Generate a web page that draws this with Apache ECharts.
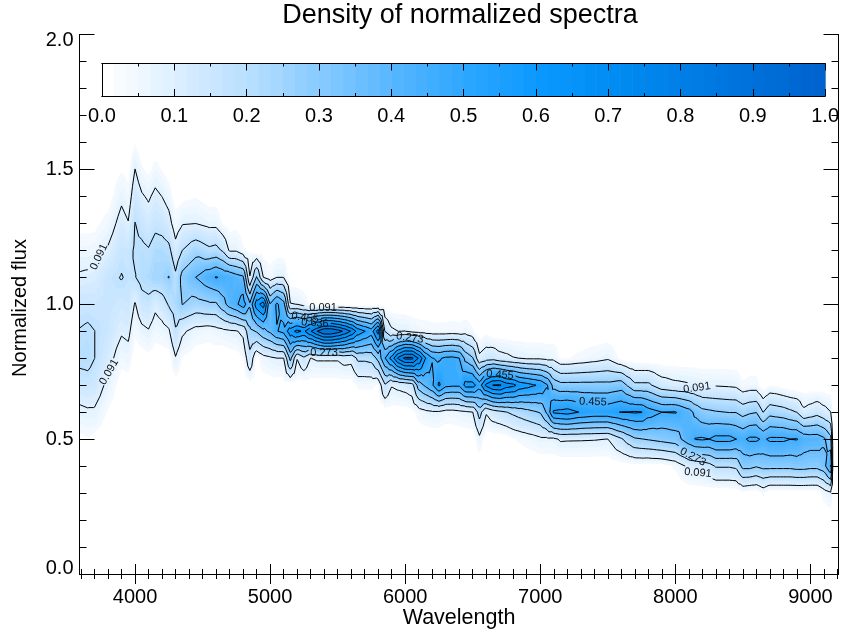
<!DOCTYPE html>
<html>
<head>
<meta charset="utf-8">
<style>html,body{margin:0;padding:0;background:#fff}#chart{width:842px;height:630px}</style>
<script src="https://cdn.jsdelivr.net/npm/echarts@6/dist/echarts.min.js"></script>
</head>
<body>
<div id="chart"></div>
<script>
// Density (percent). Each column: [wavelength, first flux bin in tenths, values upward]
const blueColumns = [
 [3580,5,2,7,14,20.5,18.5,15,10,5.5,2],
 [3650,5,3,8,15,21,19.5,15.5,10.5,5.5,2],
 [3700,5,2,8,14,18.3,18.3,15,11,6,2],
 [3800,6,3,7,12,15,16,16,10,5,1],
 [3900,7,1,5,10,14,18.6,16,12,7.5,3],
 [3950,7,1,6,11,15,17,15,9.5,5,1.5],
 [4000,8,1,4,8.5,17.8,19.5,18.4,14,9.2,3],
 [4050,8,1,7,15,21,20,15.5,10,4],
 [4100,8,2,8.5,16,22,18.8,13,8,2],
 [4150,8,1,5,11,25,22,16,11,5],
 [4200,8,1,6,14,25,22,15,9,3],
 [4250,8,1,8,19,27.6,20.5,12,6,1],
 [4300,7,1,8.5,17.5,22,20,12,5,1],
 [4350,7,1,3,10.5,27.5,30,18.2,8.5,2],
 [4450,8,1,6,24,36.5,24,9,3],
 [4550,8,1,5,26,43,20,7,1],
 [4600,8,1,6,26,46,21,7,1],
 [4650,9,7,33,44,17,3],
 [4700,8,1,8,40,43,8,1],
 [4750,8,1,8.5,44,40,8,2],
 [4800,8,3,11,50,38,4,1],
 [4850,7,2,15,25,38,9.5,2],
 [4900,7,1,2,28,60,28,1],
 [4950,7,1,6,34,68,9.1,1],
 [5000,7,1,7.5,38,37,5,1],
 [5050,7,1,9,45,47,9,1],
 [5100,7,1,9,48,40,9,1]
];
const peakColumns = [
 [5150,7,1,30,60,9.5,0],
 [5200,7,1,9.5,66,9,0],
 [5250,7,1,16,62,6,0],
 [5300,7,1,9,72,2,0],
 [5350,7,1,10,82,0],
 [5400,7,1,10,90,0],
 [5450,7,1,10,90,0],
 [5500,7,1,10,86,0],
 [5550,7,1,12,80,0],
 [5600,7,1,11.5,72,0],
 [5650,7,4,20,60,0],
 [5700,7,4,20,55,0],
 [5750,7,4,21,50,0],
 [5800,7,3,30,68,0],
 [5850,6,1,17,45,18,1],
 [5900,6,1,9.7,58,10.5,0],
 [5950,6,1,11,75,9,0],
 [6000,6,1,12,84,9.2,0],
 [6050,6,2,14,84,7,0],
 [6100,5,0,5,32,72,6,0],
 [6150,5,0,7,38,55,5.5,0],
 [6200,5,0,8,44,45.8,5,0],
 [6250,5,0,8,56,44.5,5,0],
 [6300,5,0,6,48,47,5,0],
 [6350,5,0,6,47,47.5,5.5,0],
 [6400,5,0,7,47,45.6,5,0],
 [6450,5,0,8,58,33,6,0],
 [6500,5,0,9,58,28,4,0],
 [6550,4,0,7,22,50,11,0],
 [6600,5,0,10,66,14,2],
 [6650,5,0,14,73,15,0],
 [6700,5,0,16,74,12,0],
 [6750,5,1,18,68,11,0],
 [6800,5,3,20,66,9.5,0],
 [6850,5,4,22,60,9,0],
 [6900,5,5,24,58,8,0],
 [6950,5,6,26,55.5,8,0]
];
const redColumns = [
 [7000,4,0,7.5,28,53,8,0],
 [7050,4,0,7.5,38,46.5,7,0],
 [7100,4,0,7.5,56,33,7,0],
 [7150,4,0,10,57,30,3,0],
 [7200,4,0,9.8,58,30,3,0],
 [7300,4,0,9.7,54,30,4.5,0],
 [7400,4,0,9.5,52,30,6,0],
 [7500,4,0,9,52,30,8,0],
 [7600,4,1,17,55,32,2,0],
 [7650,4,1,22,55,26,0],
 [7700,4,1.5,26,55.5,20,0],
 [7750,4,1.5,27,55,20,0],
 [7800,4,1,28,50,20,0],
 [7900,4,1.5,30,45.6,13,0],
 [8000,3,0,4,32,46,11,0],
 [8100,3,0,11,42,40,10,0],
 [8150,3,0,12,46,34,9.5,0],
 [8200,3,0,13,46.5,30,8.5,0],
 [8250,3,0,15,45.6,29,8.5,0],
 [8300,3,0,19,48,28,8.5,0],
 [8400,3,0,19,48,27,8,0],
 [8450,3,0,20,45.6,27,7.5,0],
 [8500,2,0,2,30,44,24,4,0],
 [8550,2,0,1,30,47,26,5,0],
 [8600,2,0,0.5,28,47,27,5,0],
 [8650,2,0,4,30,44,18,0],
 [8700,2,0,0.5,30,47,24,3,0],
 [8750,2,0,0.5,30,47,23,2.5,0],
 [8800,2,0,0.5,30,47,22,1,0],
 [8850,2,0,0.5,30,45.6,20,0],
 [8900,2,0,0.5,31,46,18,0],
 [8950,2,0,0.5,31,42,11,0],
 [9000,2,0,0.5,30,41,13,0],
 [9050,2,0,0.5,30,41,15,0],
 [9100,2,0,5,33,38,12,0],
 [9150,2,0,8,46,30,9.2,0],
 [9170,2,0,0,0,0,0,0]
];
const contourLevels = [9.1,18.2,27.3,36.4,45.5,54.6,63.7,72.8,81.8];
// [level text, wavelength, flux, rotation in degrees]
const contourLabels = [
 ['0.091',3733,1.176,65],['0.091',3808,0.749,60],['0.091',5392,0.987,0],
 ['0.455',5258,0.950,-8],['0.636',5332,0.930,-4],['0.273',5399,0.820,0],
 ['0.273',6035,0.875,-8],['0.455',6702,0.738,-5],['0.455',7390,0.638,-2],
 ['0.091',8160,0.690,8],['0.273',8130,0.434,-28],['0.091',8167,0.375,-5]
];
const colorStops = [[0,'#ffffff'],[0.1,'#daeeff'],[0.2,'#b5deff'],[0.3,'#84c9ff'],[0.4,'#54b5ff'],[0.5,'#2ba6ff'],[0.6,'#0a98ff'],[0.7,'#008cf2'],[0.8,'#007ee6'],[0.9,'#006fd9'],[1,'#0060cc']];
const wavelengthTicks = [4000,5000,6000,7000,8000,9000];
const wavelengthMinor = [3600,3700,3800,3900,4100,4200,4300,4400,4500,4600,4700,4800,4900,5100,5200,5300,5400,5500,5600,5700,5800,5900,6100,6200,6300,6400,6500,6600,6700,6800,6900,7100,7200,7300,7400,7500,7600,7700,7800,7900,8100,8200,8300,8400,8500,8600,8700,8800,8900,9100,9200];
const fluxMinor = [0.1,0.2,0.3,0.4,0.6,0.7,0.8,0.9,1.1,1.2,1.3,1.4,1.6,1.7,1.8,1.9];
const barTicks = [0,0.1,0.2,0.3,0.4,0.5,0.6,0.7,0.8,0.9,1];
const barMinor = [0.05,0.15,0.25,0.35,0.45,0.55,0.65,0.75,0.85,0.95];
const fillSteps = 60;

const FONT = '"Liberation Sans", Arial, sans-serif';
const columns = blueColumns.concat(peakColumns, redColumns);
const rowCount = 18;
const grid = columns.map(c => {
  const r = new Array(rowCount).fill(0);
  c.slice(2).forEach((v, i) => { r[c[1] + i] = v; });
  return r;
});
function hex(c){return [parseInt(c.slice(1,3),16),parseInt(c.slice(3,5),16),parseInt(c.slice(5,7),16)];}
function colorAt(t){
  for(let i=1;i<colorStops.length;i++){
    if(t<=colorStops[i][0]){
      const a=colorStops[i-1],b=colorStops[i],f=(t-a[0])/(b[0]-a[0]);
      const p=hex(a[1]),q=hex(b[1]);
      return 'rgb('+p.map((v,k)=>Math.round(v+(q[k]-v)*f)).join(',')+')';
    }
  }
  return colorStops[colorStops.length-1][1];
}
const triangles=[];
for(let i=0;i<columns.length-1;i++){
  for(let j=0;j<rowCount-1;j++){
    const x0=columns[i][0],x1=columns[i+1][0],y0=j/10,y1=(j+1)/10;
    const a=[x0,y0,grid[i][j]],b=[x1,y0,grid[i+1][j]],c=[x1,y1,grid[i+1][j+1]],d=[x0,y1,grid[i][j+1]];
    if(Math.max(a[2],b[2],c[2],d[2])<=0) continue;
    const m=[(x0+x1)/2,(y0+y1)/2,(a[2]+b[2]+c[2]+d[2])/4];
    triangles.push([a,b,m],[b,c,m],[c,d,m],[d,a,m]);
  }
}
function cross(p,q,L){
  const f=(L-p[2])/(q[2]-p[2]);
  return [p[0]+(q[0]-p[0])*f,p[1]+(q[1]-p[1])*f];
}
echarts.graphic.registerShape('polySet',echarts.graphic.extendShape({
  type:'polySet',
  shape:{polys:[],closed:true},
  buildPath(ctx,s){
    s.polys.forEach(p=>{
      ctx.moveTo(p[0][0],p[0][1]);
      for(let i=1;i<p.length;i++)ctx.lineTo(p[i][0],p[i][1]);
      if(s.closed)ctx.closePath();
    });
  }
}));
function renderFill(params,api){
  const L=api.value(0),polys=[];
  for(const t of triangles){
    if(Math.max(t[0][2],t[1][2],t[2][2])<L) continue;
    const out=[];
    for(let k=0;k<3;k++){
      const p=t[k],q=t[(k+1)%3];
      if(p[2]>=L) out.push(api.coord([p[0],p[1]]));
      if((p[2]>=L)!==(q[2]>=L)) out.push(api.coord(cross(p,q,L)));
    }
    if(out.length>=3) polys.push(out);
  }
  return {type:'polySet',shape:{polys,closed:true},style:{fill:colorAt(L/100),stroke:null}};
}
function labelBoxes(api,level){
  const boxes=[];
  contourLabels.forEach(l=>{
    if(Math.abs(parseFloat(l[0])*100-level)<0.6){
      const c=api.coord([l[1],l[2]]);
      boxes.push([c[0],c[1],l[3]*Math.PI/180]);
    }
  });
  return boxes;
}
function renderLine(params,api){
  const L=api.value(0),segs=[],boxes=labelBoxes(api,L);
  for(const t of triangles){
    const pts=[];
    for(let k=0;k<3;k++){
      const p=t[k],q=t[(k+1)%3];
      if((p[2]>=L)!==(q[2]>=L)) pts.push(api.coord(cross(p,q,L)));
    }
    if(pts.length===2){
      const mx=(pts[0][0]+pts[1][0])/2,my=(pts[0][1]+pts[1][1])/2;
      let hit=false;
      for(const b of boxes){
        const dx=mx-b[0],dy=my-b[1],u=dx*Math.cos(b[2])-dy*Math.sin(b[2]),v=dx*Math.sin(b[2])+dy*Math.cos(b[2]);
        if(Math.abs(u)<16&&Math.abs(v)<7) hit=true;
      }
      if(!hit) segs.push(pts);
    }
  }
  return {type:'polySet',shape:{polys:segs,closed:false},style:{fill:'none',stroke:'#000',lineWidth:1,lineJoin:'round'}};
}
function renderText(params,api){
  const c=api.coord([api.value(1),api.value(2)]);
  return {type:'text',x:c[0],y:c[1],rotation:api.value(3)*Math.PI/180,
    style:{text:contourLabels[params.dataIndex][0],fill:'#111',font:'11px '+FONT,align:'center',verticalAlign:'middle'}};
}
function renderBar(params,api){
  const a=api.coord([api.value(0)/fillSteps,0]),b=api.coord([(api.value(0)+1)/fillSteps,1]);
  return {type:'rect',shape:{x:a[0],y:b[1],width:b[0]-a[0]+0.6,height:a[1]-b[1]},
    style:{fill:colorAt(api.value(0)/fillSteps)}};
}
const fillLevels=[];
for(let i=2;i<fillSteps;i++) fillLevels.push(i*100/fillSteps);
const barSteps=[];
for(let i=0;i<fillSteps;i++) barSteps.push(i);

const line={show:true,lineStyle:{color:'#000',width:1}};
const tick=(vals,len)=>({show:true,inside:true,length:len,customValues:vals,lineStyle:{color:'#000',width:1}});
const off={show:false};
function xMain(position,vals,len,labels){
  return {type:'value',gridIndex:0,min:3589,max:9208,position,z:6,axisLine:line,splitLine:off,
    axisTick:tick(vals,len),
    axisLabel:labels?{show:true,customValues:vals,color:'#000',fontFamily:FONT,fontSize:20,margin:13,formatter:v=>String(v)}:off};
}
function yMain(position,vals,len,labels){
  return {type:'value',gridIndex:0,min:0,max:2,position,z:6,axisLine:line,splitLine:off,
    axisTick:tick(vals,len),
    axisLabel:labels?{show:true,customValues:vals,color:'#000',fontFamily:FONT,fontSize:20,margin:6,lineHeight:11,verticalAlignMinLabel:'bottom',verticalAlignMaxLabel:'top',formatter:v=>v.toFixed(1)}:off};
}
function xBar(position,vals,len,labels){
  return {type:'value',gridIndex:1,min:0,max:1,position,z:6,axisLine:line,splitLine:off,
    axisTick:tick(vals,len),
    axisLabel:labels?{show:true,customValues:vals,color:'#000',fontFamily:FONT,fontSize:20,margin:10,formatter:v=>v.toFixed(1),hideOverlap:false}:off};
}
const majorFlux=[0,0.5,1,1.5,2];
const textFont='20px '+FONT;
const chart=echarts.init(document.getElementById('chart'),null,{renderer:'canvas'});
chart.setOption({
  animation:false,
  backgroundColor:'#fff',
  title:{text:'Density of normalized spectra',left:455,top:-3,textAlign:'center',
    textStyle:{color:'#000',fontFamily:FONT,fontSize:27,fontWeight:'normal'}},
  graphic:[
    {type:'text',x:459,y:618,style:{text:'Wavelength',font:'21.5px '+FONT,fill:'#000',align:'center',verticalAlign:'middle'}},
    {type:'text',x:20,y:308,rotation:Math.PI/2,style:{text:'Normalized flux',font:textFont,fill:'#000',align:'center',verticalAlign:'middle'}}
  ],
  grid:[{left:79.5,top:34.5,width:759,height:539.5},{left:102,top:63.5,width:725.5,height:32.5}],
  xAxis:[
    xMain('bottom',wavelengthTicks,10,true),
    xMain('bottom',wavelengthMinor,5,false),
    xMain('top',wavelengthTicks,10,false),
    xMain('top',wavelengthMinor,5,false),
    xBar('bottom',barTicks,7,true),xBar('bottom',barMinor,3,false),
    xBar('top',barTicks,7,false),xBar('top',barMinor,3,false)
  ],
  yAxis:[
    yMain('left',majorFlux,15,true),
    yMain('left',fluxMinor,7,false),
    yMain('right',majorFlux,15,false),
    yMain('right',fluxMinor,7,false),
    {type:'value',gridIndex:1,min:0,max:1,position:'left',z:6,axisLine:line,axisTick:off,axisLabel:off,splitLine:off},
    {type:'value',gridIndex:1,min:0,max:1,position:'right',z:6,axisLine:line,axisTick:off,axisLabel:off,splitLine:off}
  ],
  series:[
    {type:'custom',coordinateSystem:'cartesian2d',xAxisIndex:0,yAxisIndex:0,clip:true,silent:true,z:2,renderItem:renderFill,data:fillLevels.map(v=>[v])},
    {type:'custom',coordinateSystem:'cartesian2d',xAxisIndex:0,yAxisIndex:0,clip:true,silent:true,z:3,renderItem:renderLine,data:contourLevels.map(v=>[v])},
    {type:'custom',coordinateSystem:'cartesian2d',xAxisIndex:0,yAxisIndex:0,clip:true,silent:true,z:4,renderItem:renderText,data:contourLabels.map(l=>[0,l[1],l[2],l[3]]),encode:{x:1,y:2}},
    {type:'custom',coordinateSystem:'cartesian2d',xAxisIndex:4,yAxisIndex:4,silent:true,z:3,renderItem:renderBar,data:barSteps.map(v=>[v])}
  ]
});
</script>
</body>
</html>
